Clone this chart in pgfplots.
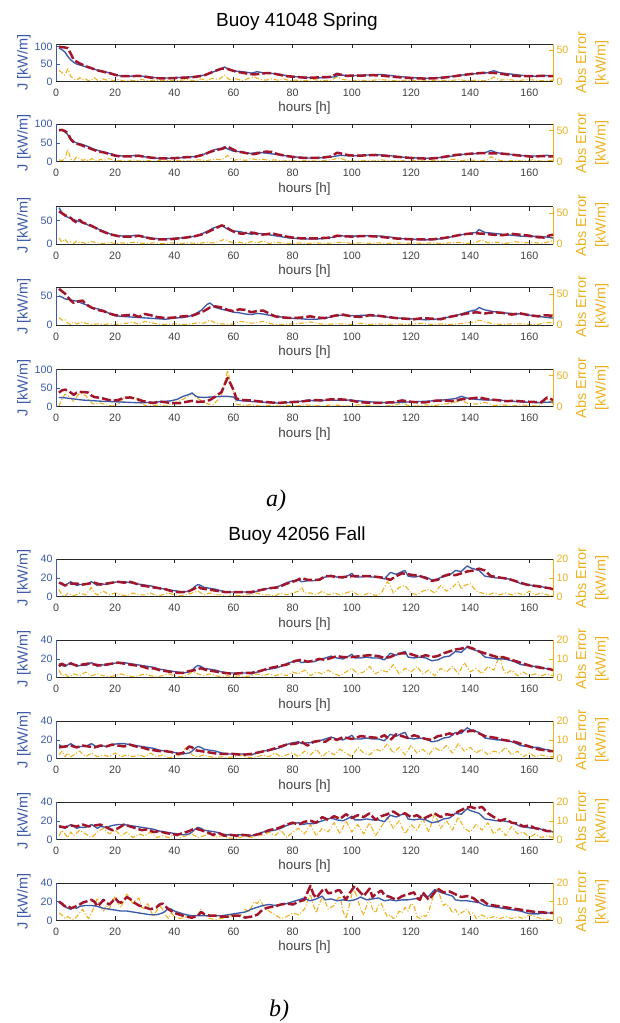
\documentclass[border=0pt]{standalone}
\usepackage{fontspec}
\setmainfont{Liberation Sans}
\newfontfamily\panelfont{Liberation Serif}
\usepackage{pgfplots}
\usepackage{pgfplotstable}
\pgfplotsset{compat=1.18}

\definecolor{jblue}{RGB}{60,90,170}
\definecolor{fred}{RGB}{162,22,44}
\definecolor{eorange}{RGB}{237,177,32}
\definecolor{axgray}{RGB}{38,38,38}
\definecolor{tickgray}{RGB}{64,64,64}

\pgfplotsset{
  buoybase/.style={
    scale only axis, width=497pt, height=37.4pt, anchor=north west,
    xmin=0, xmax=168, ymin=0,
    tick align=inside, major tick length=4pt,
    tick label style={font=\fontsize{10.7}{12}\selectfont},
    /pgf/number format/assume math mode=true,
    no markers,
  },
  leftax/.style={buoybase,
    axis x line*=box, axis y line*=left,
    xtick={0,20,...,160},
    x axis line style={draw=axgray, line width=0.6pt},
    y axis line style={draw=jblue, line width=0.6pt},
    xtick style={draw=axgray, line width=0.6pt},
    ytick style={draw=jblue, line width=0.6pt},
    xticklabel style={text=tickgray, yshift=-4pt},
    yticklabel style={text=jblue},
    xlabel={hours [h]},
    ylabel={J [kW/m]},
    every axis x label/.style={at={(axis description cs:0.5,0)}, anchor=center,
      yshift=-27pt, font=\fontsize{13.4}{15}\selectfont, text=tickgray},
    every axis y label/.style={at={(axis description cs:-0.0644,0.5)}, rotate=90,
      anchor=center, font=\fontsize{14.5}{16}\selectfont, text=jblue},
  },
  rightax/.style={buoybase,
    axis x line=none, axis y line*=right,
    y axis line style={draw=eorange, line width=0.6pt},
    ytick style={draw=eorange, line width=0.6pt},
    yticklabel style={text=eorange},
    ylabel={Abs Error\\{}[kW/m]},
    every axis y label/.style={at={(axis description cs:1.0785,0.5)}, rotate=90,
      anchor=center, align=center, font=\fontsize{14.5}{19.5}\selectfont, text=eorange},
  },
  actline/.style={jblue, line width=1.35pt, line join=round},
  fcline/.style={fred, line width=2.5pt, dash pattern=on 9pt off 3pt, line join=round},
  errline/.style={eorange, line width=1.1pt, dash pattern=on 5pt off 2pt on 1pt off 2pt, line join=round},
  toptitle/.style 2 args={title={#1}, title style={at={(axis description cs:0.485,1)},
      anchor=base, yshift=#2, font=\fontsize{19}{22}\selectfont, text=black}},
}

% #1 top offset, #2 left ymax, #3 left ticks, #4 right ymax, #5 right ticks,
% #6 abs error, #7 measured power, #8 forecast power, #9 extra left-axis keys
\newcommand\buoypanel[9]{%
  \begin{axis}[rightax, at={(56pt,-#1pt)}, ymax=#4, ytick={#5}]
    \addplot[errline] #6;
  \end{axis}
  \begin{axis}[leftax, at={(56pt,-#1pt)}, ymax=#2, ytick={#3}, #9]
    \addplot[actline] #7;
    \addplot[fcline] #8;
  \end{axis}}

% measured wave power flux, buoy 42056
\pgfplotstableread{
t v
1 15
2 13
3 12
4 14
5 16
6 14
7 12
8 13
10 13
12 16
13 14
14 12
15 14
17 13
19 15
21 16
23 16
25 15
27 14
29 13
31 12
33 11
35 9
37 8
39 7
41 6
43 5
45 6
46 8
47 11
48 13
49 12
50 10
52 9
54 8
56 6
58 5
61 5
64 5
66 4
68 6
70 8
72 9
74 10
76 12
78 15
80 17
82 18
83 16
85 17
87 17
89 19
91 21
93 23
95 21
97 20
99 23
100 25
101 21
103 21
105 22
107 21
109 21
111 19
113 26
115 24
117 27
118 28
119 22
121 21
123 22
125 21
127 18
129 19
131 22
133 23
135 28
137 27
139 33
140 31
142 29
143 28
145 22
147 21
149 20
151 20
153 19
155 17
157 14
159 13
161 12
163 12
165 10
167 9
168 8
}\bact

\begin{document}
\begin{tikzpicture}
\useasboundingbox (0,0) rectangle (620pt,-1023pt);

% ---------------- Buoy 41048 Spring ----------------
\buoypanel{44}{108}{0,50,100}{60}{0,50}
{coordinates {(1,18)(2,14)(3,10)(4,20)(5,8)(6,4)(7,2)(8,6)(9,3)(10,4)(11,1)(12,2)(13,6)(14,2)(15,1)(16,4)(17,2)(18,5)(19,1)(21,3)(23,0.5)(25,2)(27,1)(29,3)(31,1)(33,2)(35,1)(38,2)(41,1)(44,3)(47,1)(49,4)(51,2)(53,5)(55,3)(57,10)(58,5)(59,2)(61,4)(63,1)(65,5)(67,7)(69,3)(71,2)(73,4)(75,2)(77,4)(79,1)(81,2)(84,1)(87,3)(90,1)(93,2)(95,7)(97,3)(100,1)(103,2)(106,1)(109,3)(112,2)(115,1)(118,2)(121,1)(124,2)(127,1)(130,2)(133,1)(136,3)(139,1)(142,2)(145,1)(147,4)(148,7)(150,2)(153,3)(156,1)(159,3)(162,2)(165,1)(168,2)}}
{coordinates {(1,96)(2,92)(3,85)(4,72)(5,62)(6,55)(7,50)(9,45)(11,40)(13,35)(15,30)(17,27)(19,22)(21,17)(23,16)(25,15)(27,16)(29,15)(31,13)(33,11)(35,10)(38,10)(41,11)(44,12)(47,14)(50,18)(52,24)(54,30)(56,36)(57,42)(58,36)(60,30)(62,29)(64,27)(66,24)(68,28)(70,25)(73,23)(76,20)(79,15)(82,13)(85,11)(88,10)(91,11)(94,13)(96,19)(98,17)(101,17)(104,18)(107,19)(110,20)(113,17)(116,14)(119,12)(122,10)(125,9)(128,10)(131,12)(134,15)(137,18)(140,21)(143,23)(146,25)(148,31)(150,25)(153,22)(156,19)(159,16)(162,15)(165,17)(168,16)}}
{coordinates {(1,100)(3,98)(4,96)(5,80)(6,62)(8,52)(10,44)(12,38)(14,32)(16,28)(18,24)(20,19)(22,15)(25,15)(28,16)(30,14)(32,11)(35,9)(38,9)(41,10)(44,11)(47,13)(50,17)(52,24)(54,31)(56,37)(58,36)(59,33)(61,28)(63,25)(65,22)(67,20)(69,22)(71,24)(73,24)(75,20)(78,15)(81,13)(84,11)(87,11)(90,12)(93,13)(95,22)(96,20)(98,16)(101,17)(104,17)(107,18)(110,17)(113,14)(116,12)(119,10)(122,9)(125,8)(128,9)(131,11)(134,14)(137,18)(140,21)(143,24)(146,25)(149,24)(152,20)(155,16)(158,15)(161,15)(164,16)(168,15)}}
{toptitle={Buoy 41048 Spring}{11.5pt}}

\buoypanel{124.3}{100}{0,50,100}{60}{0,50}
{coordinates {(1,3)(2,2)(3,4)(4,20)(5,4)(6,2)(7,8)(8,5)(9,2)(10,4)(11,1)(12,5)(13,3)(14,1)(15,4)(16,2)(18,5)(20,1)(22,2)(24,0.5)(26,3)(28,1)(30,2)(33,1)(36,2)(39,1)(42,2)(45,1)(48,3)(51,2)(54,4)(56,3)(58,10)(59,6)(60,2)(62,4)(64,2)(66,5)(68,3)(70,4)(72,2)(74,3)(76,1)(79,2)(82,1)(85,2)(88,1)(91,2)(94,4)(96,6)(98,2)(101,1)(104,2)(107,1)(110,3)(113,1)(116,2)(119,1)(122,2)(125,1)(128,2)(131,1)(134,4)(137,2)(140,3)(143,1)(146,3)(147,8)(149,3)(152,1)(155,2)(158,1)(161,3)(164,1)(168,2)}}
{coordinates {(1,86)(2,84)(3,80)(4,72)(5,58)(6,54)(7,50)(9,46)(11,40)(13,33)(15,28)(17,24)(19,20)(21,16)(23,15)(25,15)(27,17)(29,14)(31,12)(33,10)(35,9)(38,9)(41,10)(44,12)(47,14)(50,20)(52,27)(54,33)(56,36)(57,40)(58,34)(60,28)(62,27)(64,24)(66,22)(68,25)(70,24)(73,21)(76,18)(79,14)(82,12)(85,10)(88,10)(91,11)(94,14)(96,17)(98,16)(101,16)(104,17)(107,19)(110,18)(113,16)(116,13)(119,11)(122,10)(125,9)(128,10)(131,12)(134,15)(137,19)(140,21)(143,22)(145,24)(147,30)(149,24)(152,21)(155,18)(158,16)(161,15)(164,16)(166,17)(168,15)}}
{coordinates {(1,84)(2,85)(3,82)(4,76)(5,60)(6,52)(7,48)(8,46)(10,40)(12,34)(14,28)(16,25)(18,21)(20,16)(22,14)(25,14)(28,16)(30,13)(32,11)(35,9)(38,9)(41,10)(44,12)(47,13)(50,19)(52,26)(54,31)(56,34)(58,40)(59,36)(61,28)(63,25)(65,22)(67,20)(69,24)(71,27)(73,26)(75,20)(78,15)(81,12)(84,10)(87,10)(90,11)(93,14)(95,24)(97,21)(99,17)(102,16)(105,17)(108,18)(111,16)(114,14)(117,12)(120,10)(123,9)(126,8)(129,10)(132,14)(135,18)(138,20)(141,22)(144,23)(147,22)(150,22)(153,20)(156,17)(159,15)(161,13)(164,15)(168,14)}}
{}

\buoypanel{206.7}{80}{0,50}{60}{0,50}
{coordinates {(1,10)(2,3)(3,8)(4,2)(5,4)(6,1)(7,5)(8,2)(9,3)(10,1)(12,4)(14,2)(16,1)(18,3)(20,1)(22,2)(24,1)(26,3)(28,2)(30,1)(33,2)(36,1)(39,2)(42,1)(45,2)(48,1)(51,3)(53,2)(55,4)(57,8)(58,5)(60,2)(62,3)(64,1)(66,4)(68,2)(70,5)(72,1)(74,3)(76,2)(79,1)(82,2)(85,1)(88,2)(91,1)(94,2)(97,3)(100,1)(103,2)(106,1)(109,2)(112,1)(115,2)(118,1)(121,2)(124,1)(127,2)(130,1)(133,2)(136,3)(139,1)(142,3)(144,7)(146,2)(149,3)(152,1)(155,4)(158,2)(161,3)(164,1)(167,4)(168,6)}}
{coordinates {(1,78)(2,68)(3,60)(5,55)(7,50)(9,46)(10,44)(11,40)(13,36)(15,30)(17,25)(19,20)(21,18)(23,17)(25,17)(27,19)(29,16)(31,14)(33,12)(36,11)(39,12)(42,13)(45,15)(48,18)(50,24)(52,30)(53,34)(55,38)(56,40)(58,32)(60,28)(62,27)(64,24)(66,21)(68,23)(70,22)(73,19)(76,16)(79,13)(82,12)(85,11)(88,11)(91,12)(94,15)(96,18)(98,17)(101,17)(104,18)(107,18)(110,17)(113,15)(116,12)(119,11)(122,10)(125,9)(128,10)(131,12)(134,16)(137,20)(140,23)(142,25)(143,31)(145,25)(148,23)(151,21)(154,19)(157,17)(160,16)(163,17)(166,15)(168,13)}}
{coordinates {(1,70)(2,66)(3,62)(5,56)(6,50)(7,46)(8,52)(9,46)(11,42)(13,36)(15,29)(17,24)(19,20)(21,17)(23,16)(26,16)(28,18)(30,15)(32,12)(35,10)(38,10)(41,12)(44,14)(47,17)(50,22)(52,28)(54,34)(56,40)(57,38)(59,30)(61,24)(63,22)(65,25)(67,24)(69,20)(71,21)(73,23)(75,20)(78,16)(81,13)(84,12)(87,12)(90,13)(93,14)(95,18)(97,17)(100,16)(103,17)(106,17)(109,16)(112,14)(115,12)(118,11)(121,10)(124,10)(127,10)(130,12)(133,15)(136,19)(139,22)(142,23)(145,22)(148,20)(151,19)(154,22)(157,20)(160,18)(162,15)(165,14)(167,19)(168,20)}}
{}

\buoypanel{287.7}{64}{0,50}{60}{0,50}
{coordinates {(1,12)(2,8)(3,9)(4,3)(5,1)(6,5)(7,2)(9,5)(10,3)(12,1)(14,2)(16,1)(18,2)(20,1)(22,2)(24,3)(26,5)(28,1)(30,6)(32,4)(34,2)(37,1)(40,2)(43,1)(46,2)(48,4)(50,3)(52,8)(54,3)(56,2)(58,1)(60,2)(62,6)(64,5)(66,3)(68,4)(70,6)(72,3)(74,1)(77,1)(80,2)(83,3)(86,5)(88,3)(91,1)(94,2)(97,2)(100,1)(103,3)(106,1)(109,2)(112,1)(115,2)(118,1)(121,2)(124,3)(127,1)(130,2)(133,1)(136,2)(139,4)(142,5)(143,8)(145,5)(148,2)(151,1)(154,2)(157,2)(160,1)(163,1)(165,4)(168,4)}}
{coordinates {(1,50)(2,48)(3,45)(5,43)(7,41)(9,37)(11,33)(12,30)(14,28)(16,25)(18,20)(20,16)(22,15)(25,14)(28,13)(31,12)(34,11)(37,10)(40,12)(43,13)(45,15)(47,19)(49,25)(50,30)(51,35)(52,38)(54,30)(56,27)(58,25)(60,22)(62,21)(64,19)(66,18)(68,20)(70,19)(73,16)(76,14)(79,12)(82,11)(85,10)(88,10)(91,12)(94,15)(96,17)(98,16)(101,16)(104,17)(107,16)(110,15)(113,13)(116,12)(119,11)(122,10)(125,9)(128,10)(131,12)(134,15)(137,19)(140,24)(142,26)(143,30)(145,26)(148,23)(151,21)(154,20)(157,19)(160,17)(163,15)(166,13)(168,12)}}
{coordinates {(1,62)(2,58)(3,54)(4,48)(5,42)(6,38)(7,40)(9,42)(10,36)(12,30)(14,26)(16,24)(18,20)(20,17)(22,16)(24,17)(26,18)(28,14)(30,19)(32,17)(34,14)(37,12)(40,13)(43,15)(46,16)(48,20)(50,24)(52,30)(54,32)(56,30)(58,26)(60,24)(62,27)(64,26)(66,22)(68,24)(70,25)(72,20)(74,15)(77,13)(80,12)(83,13)(86,15)(88,13)(91,12)(94,16)(97,18)(100,15)(103,14)(106,17)(109,16)(112,14)(115,12)(118,11)(121,10)(124,12)(127,11)(130,10)(133,14)(136,17)(139,20)(142,22)(145,20)(148,22)(151,21)(154,18)(157,20)(160,17)(163,15)(165,17)(168,16)}}
{}

\buoypanel{369.3}{101}{0,50,100}{60}{0,50}
{coordinates {(1,1)(2,12)(3,20)(4,18)(5,14)(6,8)(7,16)(8,22)(9,20)(10,18)(11,12)(12,6)(13,4)(15,6)(17,3)(19,1)(21,4)(23,14)(25,16)(27,14)(29,4)(31,1)(33,2)(35,3)(37,1)(39,4)(41,8)(43,12)(45,18)(46,22)(47,16)(49,10)(51,5)(53,3)(55,12)(56,20)(57,38)(58,58)(59,40)(60,24)(61,4)(63,2)(66,3)(69,1)(72,2)(75,1)(78,2)(81,1)(84,3)(87,2)(90,1)(93,3)(96,2)(99,1)(102,3)(105,2)(108,1)(111,1)(114,2)(117,6)(119,2)(122,1)(125,3)(128,2)(131,4)(134,6)(137,10)(139,6)(142,4)(145,7)(148,2)(151,3)(154,1)(157,3)(160,2)(163,1)(166,12)(168,5)}}
{coordinates {(1,25)(3,24)(5,22)(7,20)(9,18)(11,17)(13,16)(15,15)(18,14)(21,13)(24,12)(27,11)(30,11)(33,12)(36,14)(39,16)(41,20)(43,28)(45,33)(46,37)(47,30)(48,26)(50,25)(52,26)(54,27)(56,28)(58,28)(60,26)(61,18)(63,16)(66,14)(69,13)(72,11)(75,10)(78,11)(81,13)(83,15)(85,18)(87,16)(90,17)(93,18)(96,17)(99,18)(102,16)(105,14)(108,12)(111,11)(114,11)(117,12)(120,13)(123,14)(126,15)(129,17)(132,19)(135,22)(137,28)(139,23)(142,20)(145,18)(148,18)(151,17)(154,15)(157,13)(160,12)(163,11)(166,12)(168,13)}}
{coordinates {(1,38)(2,44)(3,46)(4,44)(5,38)(6,32)(7,38)(8,40)(10,39)(11,38)(12,30)(13,26)(15,24)(17,20)(19,16)(21,18)(23,24)(25,25)(27,22)(29,16)(31,12)(33,10)(35,14)(37,12)(39,10)(42,10)(44,13)(46,16)(48,13)(50,14)(52,18)(54,28)(56,40)(57,60)(58,78)(59,62)(60,45)(61,22)(63,18)(66,17)(69,14)(72,12)(75,10)(78,12)(81,13)(84,15)(87,18)(90,17)(93,20)(96,20)(99,18)(102,13)(105,11)(108,10)(111,11)(114,12)(117,17)(119,14)(122,12)(125,12)(128,16)(131,17)(134,15)(137,20)(140,22)(143,25)(146,20)(149,18)(152,15)(155,16)(158,14)(161,13)(164,12)(166,25)(167,22)(168,18)}}
{after end axis/.code={\node[font=\fontsize{24}{26}\panelfont\itshape, yshift=-94.3pt]
   at (axis description cs:0.443,0) {a)};}}

% ---------------- Buoy 42056 Fall ----------------
\buoypanel{559.3}{40}{0,20,40}{20}{0,10,20}
{coordinates {(1,4)(2,1)(3,0)(4,2)(5,1)(6,0.5)(8,2)(10,1)(12,5)(13,2)(14,1)(16,3)(18,1)(20,2)(22,1)(24,0.5)(26,2)(28,1)(30,1)(32,2)(34,0.5)(36,1)(38,2)(40,1)(42,0.5)(44,1)(46,2)(48,3)(50,1)(52,2)(54,1)(56,1)(58,0)(60,1)(62,0.5)(64,1)(66,1)(68,2)(70,1)(72,1)(74,0.5)(76,2)(78,1)(80,2)(82,3)(83,5)(84,2)(86,2)(88,1)(90,3)(92,1)(94,2)(96,1)(98,2)(100,3)(102,1)(104,1)(106,2)(108,0.5)(110,2)(112,8)(113,6)(114,2)(116,5)(118,6)(120,2)(122,1)(124,3)(126,4)(128,2)(130,6)(132,3)(134,5)(136,8)(137,4)(138,6)(140,7)(141,5)(142,3)(144,2)(146,1)(148,2)(150,1)(152,2)(154,1)(156,2)(158,1)(160,3)(162,1)(164,2)(166,1)(168,0.5)}}
{table[x=t,y=v]{\bact}}
{coordinates {(1,15)(2,14)(3,12)(5,14)(7,14)(9,13)(11,14)(13,15)(15,13)(17,14)(19,15)(21,16)(23,15)(25,16)(27,14)(29,12)(31,11)(33,10)(35,9)(37,8)(39,6)(41,5)(43,5)(45,6)(47,9)(48,11)(49,9)(51,8)(53,7)(55,6)(57,5)(60,5)(63,5)(66,5)(69,7)(72,9)(75,10)(78,14)(81,17)(83,20)(85,18)(87,18)(89,18)(91,22)(93,22)(95,21)(97,21)(100,22)(103,22)(106,22)(109,21)(111,20)(113,18)(115,22)(117,25)(119,24)(121,23)(123,22)(125,20)(127,17)(129,18)(131,22)(133,24)(135,23)(137,25)(139,27)(141,28)(143,30)(145,28)(147,22)(149,21)(151,20)(153,19)(155,17)(157,15)(159,13)(161,12)(163,11)(165,10)(167,9)(168,8)}}
{toptitle={Buoy 42056 Fall}{13pt}}

\buoypanel{640.2}{40}{0,20,40}{20}{0,10,20}
{coordinates {(1,4)(2,1)(3,2)(4,0.5)(5,1)(6,2)(8,1)(10,3)(12,1)(14,2)(16,1)(18,0.5)(20,1)(22,2)(24,1)(26,0.5)(28,1)(30,2)(32,1)(34,0.5)(36,1)(38,2)(40,1)(42,0.5)(44,1)(46,3)(48,2)(50,1)(52,2)(54,1)(56,0.5)(58,1)(60,0.5)(62,1)(64,0.5)(66,1)(68,2)(70,1)(72,2)(74,1)(76,2)(78,1)(80,3)(82,2)(84,4)(86,1)(88,3)(90,2)(92,4)(94,2)(96,1)(98,3)(100,5)(102,2)(104,3)(106,6)(108,2)(110,4)(112,3)(114,7)(116,2)(118,5)(120,3)(122,6)(124,2)(126,4)(128,1)(130,5)(132,3)(134,6)(136,2)(138,8)(140,3)(142,5)(144,2)(146,6)(148,4)(150,12)(151,5)(152,2)(154,4)(156,1)(158,3)(160,1)(162,2)(164,1)(166,2)(168,1)}}
{table[x=t,y=v]{\bact}}
{coordinates {(1,12)(2,15)(3,13)(5,15)(7,13)(9,14)(11,15)(13,14)(15,13)(17,14)(19,15)(21,16)(23,15)(25,14)(27,13)(29,12)(31,10)(33,10)(35,8)(37,7)(39,6)(41,5)(43,5)(45,7)(47,8)(49,10)(51,8)(53,7)(55,6)(57,5)(60,4)(63,5)(66,5)(69,7)(72,10)(75,12)(78,14)(81,18)(83,19)(85,17)(87,18)(89,20)(91,19)(93,21)(95,23)(97,22)(100,22)(103,23)(106,24)(109,23)(111,21)(113,22)(115,25)(117,26)(119,26)(121,24)(123,22)(125,24)(127,22)(129,23)(131,26)(133,28)(135,30)(137,31)(139,33)(141,31)(143,28)(145,26)(147,24)(149,22)(151,22)(153,20)(155,18)(157,16)(159,14)(161,12)(163,11)(165,10)(167,9)(168,8)}}
{}

\buoypanel{721.2}{40}{0,20,40}{20}{0,10,20}
{coordinates {(1,2)(2,4)(3,1)(4,3)(5,1)(6,2)(8,4)(10,1)(12,3)(14,1)(16,2)(18,1)(20,3)(22,1)(24,2)(26,1)(28,2)(30,1)(32,3)(34,1)(36,2)(38,0.5)(40,1)(42,2)(44,6)(45,5)(46,2)(48,1)(50,2)(52,1)(54,0.5)(56,1)(58,0.5)(60,1)(62,2)(64,1)(66,0.5)(68,1)(70,2)(72,1)(74,3)(76,1)(78,2)(80,3)(82,1)(84,4)(86,2)(88,5)(90,1)(92,4)(94,2)(96,5)(98,3)(100,1)(102,6)(104,3)(106,2)(108,5)(110,4)(112,8)(114,3)(116,6)(118,2)(120,7)(122,3)(124,5)(126,2)(128,6)(130,4)(132,7)(134,3)(136,8)(138,4)(140,6)(142,3)(144,5)(146,2)(148,4)(150,3)(152,6)(154,2)(156,4)(158,1)(160,3)(162,1)(164,2)(166,1)(168,1)}}
{table[x=t,y=v]{\bact}}
{coordinates {(1,12)(3,13)(5,14)(7,12)(9,14)(11,13)(13,12)(15,14)(17,13)(19,15)(21,14)(23,13)(25,15)(27,13)(29,12)(31,10)(33,9)(35,8)(37,8)(39,7)(41,5)(43,6)(45,13)(46,12)(47,9)(49,8)(51,7)(53,6)(55,5)(57,5)(60,5)(63,4)(66,5)(69,7)(72,9)(75,12)(78,15)(81,16)(83,18)(85,14)(87,18)(89,19)(91,18)(93,22)(95,20)(97,23)(100,21)(103,24)(106,23)(109,22)(111,25)(113,20)(115,26)(117,24)(119,22)(121,25)(123,23)(125,21)(127,20)(129,24)(131,25)(133,27)(135,25)(137,30)(139,29)(141,30)(143,27)(145,24)(147,23)(149,22)(151,20)(153,19)(155,18)(157,16)(159,14)(161,12)(163,10)(165,9)(167,8)(168,8)}}
{}

\buoypanel{802.1}{40}{0,20,40}{20}{0,10,20}
{coordinates {(1,2)(2,5)(3,3)(4,1)(5,4)(6,2)(8,5)(10,3)(12,1)(14,4)(16,6)(18,3)(20,5)(22,2)(24,4)(26,1)(28,3)(30,2)(32,4)(34,1)(36,2)(38,1)(40,3)(42,1)(44,2)(46,3)(48,1)(50,2)(52,3)(54,1)(56,2)(58,1)(60,0.5)(62,1)(64,2)(66,1)(68,3)(70,2)(72,4)(74,2)(76,5)(78,1)(80,4)(82,6)(84,3)(86,8)(88,2)(90,6)(92,4)(94,9)(96,3)(98,10)(100,4)(102,8)(104,3)(106,9)(108,2)(110,7)(112,12)(114,6)(116,10)(118,3)(120,8)(122,5)(124,11)(126,4)(128,14)(130,6)(132,10)(134,5)(136,12)(138,6)(140,4)(142,8)(144,5)(146,9)(148,3)(150,6)(152,2)(154,7)(156,3)(158,4)(160,1)(162,3)(164,1)(166,2)(168,1)}}
{table[x=t,y=v]{\bact}}
{coordinates {(1,14)(3,13)(5,15)(7,14)(9,16)(11,14)(13,15)(15,16)(17,13)(19,10)(21,12)(23,16)(25,14)(27,12)(29,10)(31,11)(33,8)(35,9)(37,7)(39,6)(41,5)(43,7)(45,9)(47,12)(49,10)(51,8)(53,5)(55,7)(57,4)(59,5)(61,4)(63,5)(66,4)(69,6)(72,10)(75,12)(78,16)(80,18)(82,16)(84,19)(86,20)(88,18)(90,24)(92,21)(94,25)(96,22)(98,27)(100,23)(102,26)(104,24)(106,28)(108,21)(110,25)(112,27)(114,30)(116,26)(118,28)(120,24)(122,26)(124,22)(126,25)(128,28)(130,24)(132,27)(134,26)(136,30)(138,33)(140,35)(142,33)(144,35)(146,28)(148,24)(150,20)(152,22)(154,18)(156,17)(158,14)(160,15)(162,12)(164,11)(166,9)(168,9)}}
{}

\buoypanel{883}{40}{0,20,40}{20}{0,10,20}
{coordinates {(1,4)(2,3)(3,1)(4,2)(5,1)(6,0.5)(7,2)(8,4)(9,6)(10,3)(11,1)(12,4)(13,8)(14,12)(15,7)(16,5)(17,8)(18,6)(19,10)(20,13)(21,9)(22,7)(23,11)(24,14)(25,12)(26,9)(27,11)(28,12)(29,7)(30,6)(31,9)(32,5)(33,2)(34,5)(35,8)(36,6)(37,3)(38,1)(39,4)(40,2)(42,1)(44,2)(46,1)(48,3)(49,6)(50,3)(52,1)(54,0.5)(56,1)(58,2)(60,3)(62,2)(64,6)(65,4)(66,7)(67,10)(68,9)(69,11)(70,8)(72,5)(74,3)(76,1)(78,2)(80,4)(82,3)(84,6)(85,10)(86,14)(87,8)(88,4)(89,9)(90,12)(91,10)(92,6)(94,8)(95,11)(96,13)(97,5)(98,1)(99,7)(100,14)(101,16)(102,11)(103,6)(104,3)(105,8)(106,12)(107,6)(108,4)(109,8)(110,9)(111,5)(112,2)(113,3)(114,1)(115,2)(116,5)(117,4)(118,7)(119,5)(120,9)(121,8)(122,2)(123,1)(124,3)(125,2)(126,5)(127,10)(128,16)(129,17)(130,12)(131,8)(132,9)(133,7)(134,4)(135,6)(136,3)(137,4)(138,5)(139,6)(140,3)(141,4)(142,1)(143,2)(144,3)(145,2)(146,1)(148,2)(150,1)(152,2)(154,1)(156,2)(158,1)(160,3)(162,2)(164,1)(166,0.5)(168,0)}}
{coordinates {(1,20)(2,17)(3,15)(4,13)(5,12)(6,14)(7,13)(8,15)(10,16)(12,16)(14,15)(16,13)(18,12)(20,11)(22,10)(24,10)(26,9)(28,8)(30,7)(32,6)(34,6)(36,8)(37,10)(38,13)(39,12)(40,10)(42,8)(44,6)(46,5)(48,5)(50,5)(52,5)(54,5)(56,5)(58,6)(60,7)(62,8)(64,9)(66,12)(68,14)(70,16)(72,17)(74,16)(76,17)(78,18)(80,20)(82,22)(84,24)(85,22)(86,21)(88,23)(90,26)(91,22)(93,23)(95,21)(97,22)(99,21)(101,22)(103,25)(105,22)(107,23)(109,24)(111,21)(113,22)(115,21)(117,22)(119,22)(121,23)(123,24)(124,28)(125,25)(126,26)(128,33)(130,30)(132,28)(134,26)(135,22)(137,21)(139,21)(141,20)(143,19)(145,16)(147,15)(149,14)(151,13)(153,12)(155,11)(157,10)(159,8)(161,7)(163,7)(165,8)(167,8)(168,8)}}
{coordinates {(1,20)(2,18)(3,15)(4,16)(5,13)(6,14)(8,17)(9,19)(10,20)(12,22)(13,20)(14,15)(15,18)(16,22)(17,19)(18,17)(19,20)(20,24)(21,20)(22,19)(23,22)(24,25)(25,23)(26,20)(27,18)(28,16)(30,14)(32,12)(34,14)(35,17)(36,18)(37,15)(38,12)(40,8)(42,6)(44,4)(46,3)(48,5)(49,9)(50,7)(52,5)(54,5)(56,4)(58,4)(60,5)(62,5)(64,3)(66,4)(68,6)(70,12)(72,14)(74,15)(76,17)(78,18)(80,17)(82,20)(84,22)(85,30)(86,37)(87,28)(88,24)(90,32)(91,34)(92,29)(94,30)(95,32)(96,32)(98,22)(99,28)(101,37)(102,33)(104,26)(105,30)(106,34)(107,25)(108,28)(110,32)(111,27)(113,25)(115,22)(117,26)(119,28)(121,30)(122,24)(123,22)(124,30)(125,26)(126,22)(128,30)(129,34)(131,30)(133,31)(135,28)(137,25)(139,26)(141,24)(143,19)(144,22)(146,17)(148,16)(150,15)(152,14)(154,13)(156,12)(158,11)(160,10)(162,9)(164,9)(166,8)(168,8)}}
{after end axis/.code={\node[font=\fontsize{24}{26}\panelfont\itshape, yshift=-90.6pt]
   at (axis description cs:0.449,0) {b)};}}

\end{tikzpicture}
\end{document}
